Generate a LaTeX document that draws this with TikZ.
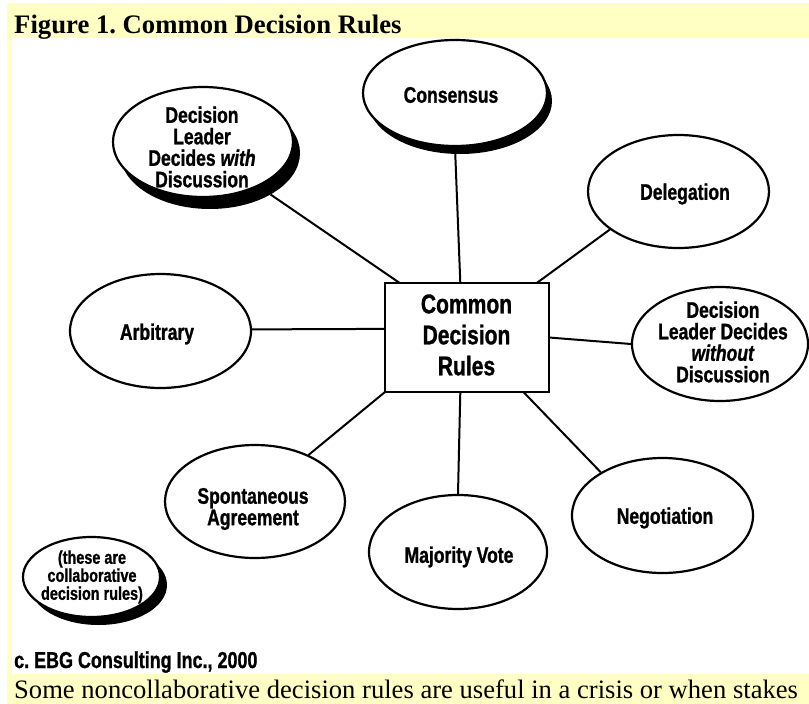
\documentclass[tikz,border=0pt]{standalone}
\usepackage{fontspec}
\setmainfont{Liberation Serif}
\newfontfamily\cond[FakeStretch=0.78,FakeBold=1]{Liberation Sans}
\usetikzlibrary{shapes.geometric}
\definecolor{pageyellow}{RGB}{255,255,196}
\frenchspacing
\tikzset{
  ell/.style={ellipse, draw=black, line width=2.2pt, fill=white, inner sep=0pt},
  shade/.style={ellipse, fill=black, inner sep=0pt},
  conn/.style={draw=black, line width=2pt},
  lbl/.style={align=center, inner sep=0pt, font=\cond\bfseries\fontsize{22.5}{21.5}\selectfont},
  small/.style={align=center, inner sep=0pt, font=\cond\bfseries\fontsize{18.5}{18}\selectfont},
}
\begin{document}
\begin{tikzpicture}[x=1pt,y=-1pt]
\useasboundingbox (0,0) rectangle (809,704);
\clip (0,0) rectangle (809,704);
% page background
\fill[white] (0,0) rectangle (809,704);
\fill[pageyellow] (7,3) rectangle (809,38);
\fill[pageyellow] (7,38) rectangle (12,674);
\fill[pageyellow] (7,674) rectangle (809,704);
\node[anchor=base west, inner sep=0pt, font=\bfseries\fontsize{26.7}{30}\selectfont] (title) at (14,33) {Figure 1. Common Decision Rules};
\node[anchor=base west, inner sep=0pt, font=\fontsize{26.6}{30}\selectfont] (caption) at (14,698) {Some noncollaborative decision rules are useful in a crisis or when stakes};
\node[anchor=base west, inner sep=0pt, font=\cond\bfseries\fontsize{23}{23}\selectfont] (copy) at (14,668) {c. EBG Consulting Inc., 2000};

% shadows
\node[shade, minimum width=184pt, minimum height=106pt] (cons-s) at (460,101) {};
\node[shade, minimum width=180pt, minimum height=112pt] (with-s) at (210,153) {};
\node[shade, minimum width=137pt, minimum height=80pt] (note-s) at (98.5,585) {};

% ellipses
\node[ell, minimum width=184pt, minimum height=106pt] (cons) at (455,93) {};
\node[ell, minimum width=181pt, minimum height=113pt] (deleg) at (678.5,191.5) {};
\node[ell, minimum width=176pt, minimum height=114pt] (wo) at (720,344) {};
\node[ell, minimum width=181pt, minimum height=115pt] (nego) at (662.5,515.5) {};
\node[ell, minimum width=178pt, minimum height=114pt] (major) at (458,552) {};
\node[ell, minimum width=180pt, minimum height=113pt] (spont) at (255,501.5) {};
\node[ell, minimum width=181pt, minimum height=114pt] (arb) at (160.5,331) {};
\node[ell, minimum width=180pt, minimum height=110pt] (with) at (203,142) {};
\node[ell, minimum width=137pt, minimum height=80pt] (note) at (91.5,577) {};

% centre box
\node[draw=black, line width=2.8pt, fill=white, minimum width=164pt, minimum height=109pt, inner sep=0pt, outer sep=0pt] (rect) at (467,337.5) {};
\node[align=center, inner sep=0pt, font=\cond\bfseries\fontsize{27}{31}\selectfont] (rect-t) at (466.5,335) {Common\\Decision\\Rules};

% texts
\node[lbl] (cons-t) at (451,95) {Consensus};
\node[lbl] (deleg-t) at (685,194) {Delegation};
\node[lbl] (wo-t) at (723,342) {Decision\\Leader Decides\\\textit{without}\\Discussion};
\node[lbl] (nego-t) at (665,518) {Negotiation};
\node[lbl] (major-t) at (459,557) {Majority Vote};
\node[lbl] (spont-t) at (253,509) {Spontaneous\\Agreement};
\node[lbl] (arb-t) at (157,334) {Arbitrary};
\node[lbl] (with-t) at (202,147) {Decision\\Leader\\Decides \textit{with}\\Discussion};
\node[small] (note-t) at (92,577) {(these are\\collaborative\\decision rules)};

% connectors
\draw[conn] (rect.97.3) -- (cons.-90);
\draw[conn] (rect.38.7) -- (deleg.209.4);
\draw[conn] (rect.0) -- (wo.180);
\draw[conn] (rect.-44.7) -- (nego.145.9);
\draw[conn] (rect.-97.3) -- (major.90);
\draw[conn] (rect.south west) -- (spont.41.8);
\draw[conn] (rect.174.1) -- (arb.1.3);
\draw[conn] (rect.141.7) -- (with-s);
\end{tikzpicture}
\end{document}
